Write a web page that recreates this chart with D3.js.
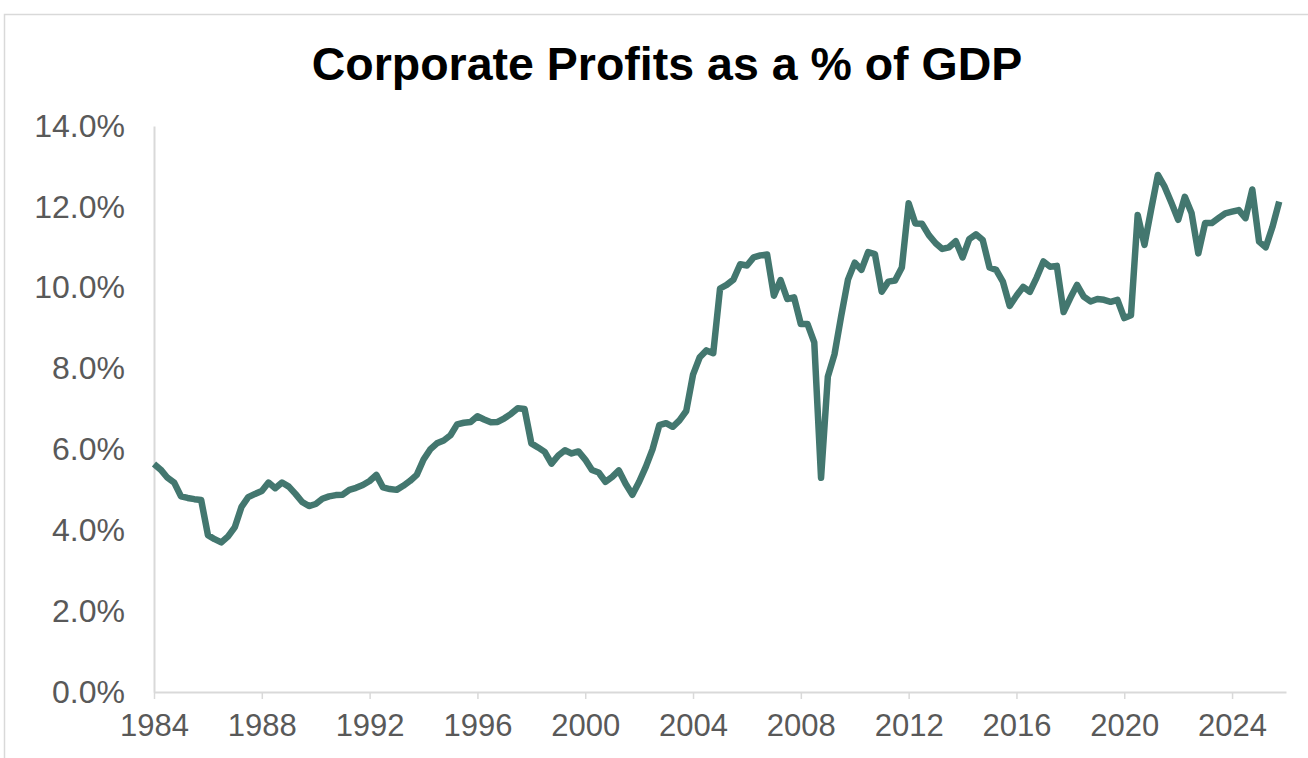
<!DOCTYPE html>
<html>
<head>
<meta charset="utf-8">
<script src="https://cdn.jsdelivr.net/npm/d3@7"></script>
<style>
  body { margin: 0; background: #fff; }
  text { font-family: "Liberation Sans", Arial, sans-serif; }
</style>
</head>
<body>
<div id="chart"></div>
<script>
// Quarterly corporate profits as a share of GDP (%), starting 1984 Q1
var startYear = 1984;
var profitShare = [
  5.64, 5.50, 5.30, 5.18,   // 1984
  4.84, 4.80, 4.77, 4.75,   // 1985
  3.88, 3.78, 3.70, 3.85,   // 1986
  4.08, 4.58, 4.82, 4.90,   // 1987
  4.97, 5.18, 5.04, 5.18,   // 1988
  5.08, 4.90, 4.70, 4.60,   // 1989
  4.65, 4.78, 4.84, 4.87,   // 1990
  4.88, 5.00, 5.05, 5.12,   // 1991
  5.22, 5.37, 5.06, 5.02,   // 1992
  5.00, 5.10, 5.22, 5.37,   // 1993
  5.75, 6.00, 6.15, 6.22,   // 1994
  6.35, 6.62, 6.66, 6.68,   // 1995
  6.82, 6.74, 6.67, 6.68,   // 1996
  6.77, 6.88, 7.02, 7.00,   // 1997
  6.15, 6.05, 5.94, 5.65,   // 1998
  5.85, 5.98, 5.90, 5.95,   // 1999
  5.75, 5.49, 5.43, 5.20,   // 2000
  5.32, 5.48, 5.15, 4.88,   // 2001
  5.20, 5.57, 6.00, 6.60,   // 2002
  6.65, 6.56, 6.72, 6.95,   // 2003
  7.85, 8.28, 8.45, 8.38,   // 2004
  9.98, 10.07, 10.20, 10.58, // 2005
  10.55, 10.75, 10.80, 10.82, // 2006
  9.80, 10.19, 9.72, 9.76,  // 2007
  9.10, 9.10, 8.65, 5.30,   // 2008
  7.80, 8.35, 9.30, 10.20,  // 2009
  10.62, 10.44, 10.88, 10.83, // 2010
  9.90, 10.15, 10.18, 10.50, // 2011
  12.09, 11.59, 11.58, 11.30, // 2012
  11.10, 10.96, 11.00, 11.15, // 2013
  10.75, 11.20, 11.32, 11.18, // 2014
  10.50, 10.44, 10.15, 9.55, // 2015
  9.80, 10.02, 9.90, 10.25, // 2016
  10.65, 10.52, 10.54, 9.40, // 2017
  9.75, 10.07, 9.78, 9.66,  // 2018
  9.72, 9.70, 9.65, 9.70,   // 2019
  9.25, 9.32, 11.80, 11.06, // 2020
  11.95, 12.79, 12.50, 12.10, // 2021
  11.68, 12.25, 11.85, 10.85, // 2022
  11.60, 11.60, 11.72, 11.84, // 2023
  11.88, 11.92, 11.72, 12.43, // 2024
  11.14, 11.00, 11.50, 12.13  // 2025
];
var yTicks = [0, 2, 4, 6, 8, 10, 12, 14];
var xTickYears = [1984, 1988, 1992, 1996, 2000, 2004, 2008, 2012, 2016, 2020, 2024];
var chartTitle = 'Corporate Profits as a % of GDP';

(function () {
  var width = 1308;
  var height = 758;
  var plotLeft = 154, plotRight = 1286, plotTop = 126, plotBottom = 692;

  var series = profitShare.map(function (v, i) {
    return { date: new Date(startYear + Math.floor(i / 4), (i % 4) * 3, 1), value: v };
  });

  var x = d3.scaleTime()
    .domain([new Date(1984, 0, 1), new Date(2026, 0, 1)])
    .range([plotLeft, plotRight]);

  var y = d3.scaleLinear()
    .domain([0, 14])
    .range([plotBottom, plotTop]);

  var svg = d3.select('#chart')
    .append('svg')
    .attr('width', width)
    .attr('height', height);

  // outer chart border (only top and left visible in the frame)
  svg.append('rect')
    .attr('x', 4.5)
    .attr('y', 14.5)
    .attr('width', width + 10)
    .attr('height', height + 10)
    .attr('fill', '#fff')
    .attr('stroke', '#d9d9d9')
    .attr('stroke-width', 1.5);

  svg.append('text')
    .attr('x', 667)
    .attr('y', 80)
    .attr('text-anchor', 'middle')
    .attr('font-size', 46.5)
    .attr('font-weight', 'bold')
    .attr('fill', '#000')
    .text(chartTitle);

  // y axis
  var yAxis = svg.append('g')
    .attr('transform', 'translate(' + plotLeft + ',0)')
    .call(d3.axisLeft(y)
      .tickValues(yTicks)
      .tickSize(0)
      .tickPadding(29)
      .tickFormat(function (d) { return d3.format('.1f')(d) + '%'; }));
  yAxis.select('.domain').attr('stroke', '#d9d9d9').attr('stroke-width', 2);
  yAxis.selectAll('text')
    .attr('font-size', 32)
    .attr('fill', '#595959')
    .attr('font-family', '"Liberation Sans", Arial, sans-serif');

  // x axis
  var xAxis = svg.append('g')
    .attr('transform', 'translate(0,' + plotBottom + ')')
    .call(d3.axisBottom(x)
      .tickValues(xTickYears.map(function (yr) { return new Date(yr, 0, 1); }))
      .tickSize(7)
      .tickSizeOuter(0)
      .tickPadding(15)
      .tickFormat(d3.timeFormat('%Y')));
  xAxis.select('.domain').attr('stroke', '#d9d9d9').attr('stroke-width', 2);
  xAxis.selectAll('.tick line').attr('stroke', '#d9d9d9').attr('stroke-width', 1.5);
  xAxis.selectAll('text')
    .attr('font-size', 31)
    .attr('fill', '#595959')
    .attr('font-family', '"Liberation Sans", Arial, sans-serif');

  var line = d3.line()
    .x(function (d) { return x(d.date); })
    .y(function (d) { return y(d.value); });

  svg.append('path')
    .datum(series)
    .attr('d', line)
    .attr('fill', 'none')
    .attr('stroke', '#43776f')
    .attr('stroke-width', 6.5)
    .attr('stroke-linejoin', 'round')
    .attr('stroke-linecap', 'butt');
})();
</script>
</body>
</html>
